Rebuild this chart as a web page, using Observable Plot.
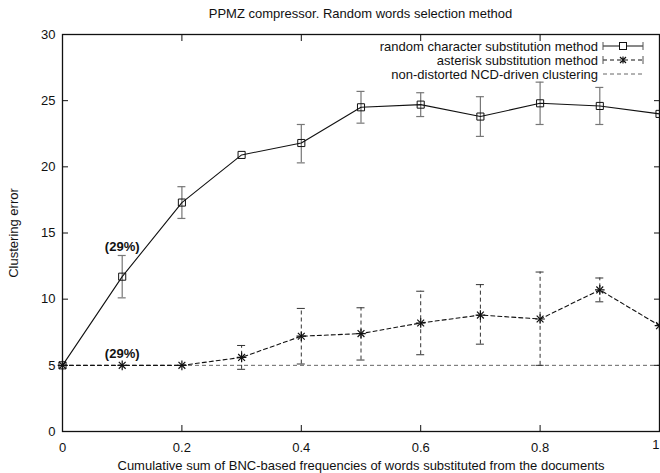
<!DOCTYPE html>
<html><head><meta charset="utf-8">
<script src="https://cdn.jsdelivr.net/npm/d3@7"></script>
<script src="https://cdn.jsdelivr.net/npm/@observablehq/plot@0.6"></script>
<style>
body{margin:0;background:#fff;font-family:"Liberation Sans",Arial,sans-serif;}
#wrap{position:relative;width:660px;height:473px;overflow:hidden;}
#title{position:absolute;left:62px;width:597px;top:6px;text-align:center;font-size:13px;color:#111;}
#legend{position:absolute;left:0;top:0;}
</style></head><body>
<div id="wrap"><div id="chart"></div><div id="title"></div><svg id="legend" width="660" height="90"></svg></div>
<script>
const titleText = "PPMZ compressor. Random words selection method";
const xLabel = "Cumulative sum of BNC-based frequencies of words substituted from the documents";
const yLabel = "Clustering error";
const xTicks = [0, 0.2, 0.4, 0.6, 0.8, 1];
const yTicks = [0, 5, 10, 15, 20, 25, 30];
const xs = [0, 0.1, 0.2, 0.3, 0.4, 0.5, 0.6, 0.7, 0.8, 0.9, 1.0];
const randomY  = [5, 11.7, 17.3, 20.9, 21.8, 24.5, 24.7, 23.8, 24.8, 24.6, 24.0];
const randomLo = [null, 10.1, 16.1, null, 20.3, 23.3, 23.8, 22.3, 23.2, 23.2, null];
const randomHi = [null, 13.3, 18.5, null, 23.2, 25.7, 25.6, 25.3, 26.4, 26.0, null];
const asteriskY  = [5, 5, 5, 5.6, 7.2, 7.4, 8.2, 8.8, 8.5, 10.7, 8.0];
const asteriskLo = [null, null, null, 4.7, 5.1, 5.4, 5.8, 6.6, 5.0, 9.8, null];
const asteriskHi = [null, null, null, 6.5, 9.3, 9.35, 10.6, 11.1, 12.05, 11.6, null];
const baselineY = [5];
const annoX = [0.1, 0.1];
const annoY = [13.95, 5.85];
const annoText = ["(29%)", "(29%)"];
const legendLabels = ["random character substitution method", "asterisk substitution method", "non-distorted NCD-driven clustering"];

const W = 660, H = 473, mL = 62, mR = 1, mT = 34, mB = 42;
const capHalf = 4 / (W - mL - mR);
const lastTick = xTicks[xTicks.length - 1];

const rnd = xs.map((x, i) => ({x, y: randomY[i], lo: randomLo[i], hi: randomHi[i]}));
const ast = xs.map((x, i) => ({x, y: asteriskY[i], lo: asteriskLo[i], hi: asteriskHi[i]}));
const rndErr = rnd.filter(d => d.lo != null);
const astErr = ast.filter(d => d.lo != null);
const caps = (arr) => arr.flatMap(d => [{x1: d.x - capHalf, x2: d.x + capHalf, y: d.lo}, {x1: d.x - capHalf, x2: d.x + capHalf, y: d.hi}]);
const anno = annoX.map((x, i) => ({x, y: annoY[i], t: annoText[i]}));

const chart = Plot.plot({
  width: W, height: H,
  marginLeft: mL, marginRight: mR, marginTop: mT, marginBottom: mB,
  style: {fontFamily: '"Liberation Sans", Arial, sans-serif', fontSize: "13px", color: "#111", background: "white"},
  x: {domain: [0, 1]},
  y: {domain: [0, 30]},
  marks: [
    Plot.ruleY(baselineY, {stroke: "#666", strokeDasharray: "4,3", strokeWidth: 1}),
    Plot.ruleX(rndErr, {x: "x", y1: "lo", y2: "hi", stroke: "#777", strokeWidth: 1.2}),
    Plot.ruleY(caps(rndErr), {x1: "x1", x2: "x2", y: "y", stroke: "#777", strokeWidth: 1.2}),
    Plot.ruleX(astErr, {x: "x", y1: "lo", y2: "hi", stroke: "#333", strokeWidth: 1, strokeDasharray: "4,3"}),
    Plot.ruleY(caps(astErr), {x1: "x1", x2: "x2", y: "y", stroke: "#333", strokeWidth: 1}),
    Plot.line(rnd, {x: "x", y: "y", stroke: "#111", strokeWidth: 1.1}),
    Plot.line(ast, {x: "x", y: "y", stroke: "#111", strokeWidth: 1.1, strokeDasharray: "4,3"}),
    Plot.dot(rnd, {x: "x", y: "y", symbol: "square", r: 4, stroke: "#111", fill: "none", strokeWidth: 1}),
    Plot.dot(ast, {x: "x", y: "y", symbol: "times", r: 3.2, stroke: "#111", strokeWidth: 1.2}),
    Plot.dot(ast, {x: "x", y: "y", symbol: "plus", r: 3.2, stroke: "#111", strokeWidth: 1.2}),
    Plot.text(anno, {x: "x", y: "y", text: "t", fontWeight: "bold", fontSize: 13, fill: "#111"}),
    Plot.frame({stroke: "#111", strokeWidth: 1.3}),
    Plot.axisX({ticks: xTicks, tickSize: -6, tickPadding: 17, tickFormat: d => d === lastTick ? "" : String(d), label: xLabel, labelAnchor: "center", labelOffset: 38, labelArrow: "none"}),
    Plot.text([lastTick], {x: d => d, text: d => String(d), frameAnchor: "bottom", dy: 8, lineAnchor: "top", textAnchor: "end", fill: "#111", fontSize: 13}),
    Plot.axisX({anchor: "top", ticks: xTicks, tickSize: -6, tickFormat: () => "", label: null}),
    Plot.axisY({ticks: yTicks, tickSize: -6, tickPadding: 13, label: yLabel, labelAnchor: "center", labelOffset: 54, labelArrow: "none"}),
    Plot.axisY({anchor: "right", ticks: yTicks, tickSize: -6, tickFormat: () => "", label: null})
  ]
});
document.getElementById("chart").appendChild(chart);
document.getElementById("title").textContent = titleText;

// legend
const lg = d3.select("#legend");
const rowY = [46, 60, 74];
const textRight = 598, s0 = 603, s1 = 643;
legendLabels.forEach((lab, i) => {
  lg.append("text").attr("x", textRight).attr("y", rowY[i]).attr("dy", "0.35em")
    .attr("text-anchor", "end").attr("font-size", 13).attr("fill", "#111").text(lab);
});
lg.append("line").attr("x1", s0).attr("x2", s1).attr("y1", rowY[0]).attr("y2", rowY[0]).attr("stroke", "#111");
[s0, s1].forEach(x => lg.append("line").attr("x1", x).attr("x2", x).attr("y1", rowY[0]-4).attr("y2", rowY[0]+4).attr("stroke", "#555"));
lg.append("rect").attr("x", (s0+s1)/2-3.5).attr("y", rowY[0]-3.5).attr("width", 7).attr("height", 7).attr("fill", "white").attr("stroke", "#111");
lg.append("line").attr("x1", s0).attr("x2", s1).attr("y1", rowY[1]).attr("y2", rowY[1]).attr("stroke", "#111").attr("stroke-dasharray", "4,3");
[s0, s1].forEach(x => lg.append("line").attr("x1", x).attr("x2", x).attr("y1", rowY[1]-4).attr("y2", rowY[1]+4).attr("stroke", "#555"));
const cx = (s0+s1)/2;
lg.append("path").attr("d", `M${cx-3},${rowY[1]-3}L${cx+3},${rowY[1]+3}M${cx-3},${rowY[1]+3}L${cx+3},${rowY[1]-3}M${cx},${rowY[1]-3.5}L${cx},${rowY[1]+3.5}`).attr("stroke", "#111").attr("stroke-width", 1.2);
lg.append("line").attr("x1", s0).attr("x2", s1).attr("y1", rowY[2]).attr("y2", rowY[2]).attr("stroke", "#666").attr("stroke-dasharray", "4,3");
</script>
</body></html>
